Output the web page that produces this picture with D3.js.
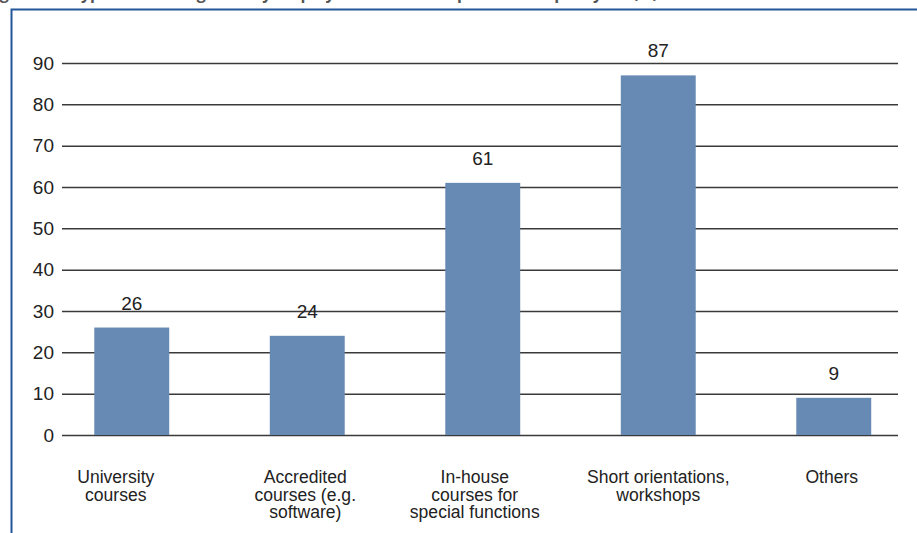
<!DOCTYPE html>
<html>
<head>
<meta charset="utf-8">
<script src="https://cdn.jsdelivr.net/npm/d3@7"></script>
<style>
  html, body { margin: 0; padding: 0; background: #fff; }
  svg { display: block; }
</style>
</head>
<body>
<svg id="chart" width="917" height="533"></svg>
<script>
// Training types and share of respondents (%)
const categories = [
  ["University", "courses"],
  ["Accredited", "courses (e.g.", "software)"],
  ["In-house", "courses for", "special functions"],
  ["Short orientations,", "workshops"],
  ["Others"]
];
const values = [26, 24, 61, 87, 9];
const yTicks = [0, 10, 20, 30, 40, 50, 60, 70, 80, 90];
const titleText = "Figure 4.2: Types of training used by employees in the workplace in the past year (%)";

const svg = d3.select("#chart");
const W = 917, H = 533;

const keys = categories.map(c => c.join(" "));

const x = d3.scaleBand().domain(keys).range([44, 921.5]).padding(0);
const barW = x.bandwidth() * 0.427;
const y = d3.scaleLinear().domain([0, 90]).range([435, 63]);
const cx = k => x(k) + x.bandwidth() / 2;

// Title, running off the top edge of the page
svg.append("text")
  .attr("x", -14).attr("y", -1)
  .attr("font-family", "Open Sans, sans-serif")
  .attr("font-weight", "bold")
  .attr("font-size", 16)
  .attr("fill", "#555")
  .text(titleText);

// Frame
svg.append("path")
  .attr("d", `M11.5,${H} V9.5 H${W}`)
  .attr("fill", "none")
  .attr("stroke", "#24579a")
  .attr("stroke-width", 2);

// Gridlines and tick labels
const yAxis = d3.axisLeft(y).tickValues(yTicks).tickSize(-(898 - 62)).tickPadding(8);
const gy = svg.append("g").attr("transform", "translate(62,0)").call(yAxis);
gy.select(".domain").remove();
gy.selectAll(".tick line").attr("stroke", "#3a3a3a").attr("stroke-width", 1.5);
gy.selectAll(".tick text")
  .attr("font-family", "Liberation Sans, Arial, sans-serif")
  .attr("font-size", 19)
  .attr("fill", "#222");

// Bars
svg.append("g").selectAll("rect")
  .data(values)
  .join("rect")
  .attr("x", (d, i) => x(keys[i]) + (x.bandwidth() - barW) / 2)
  .attr("y", d => y(d))
  .attr("width", barW)
  .attr("height", d => y(0) - y(d))
  .attr("fill", "#668ab3");

// Value labels
svg.append("g").selectAll("text")
  .data(values)
  .join("text")
  .attr("x", (d, i) => cx(keys[i]))
  .attr("y", d => y(d) - 18)
  .attr("text-anchor", "middle")
  .attr("font-family", "Liberation Sans, Arial, sans-serif")
  .attr("font-size", 19)
  .attr("fill", "#222")
  .text(d => d);

// Category labels: one text per line, slightly condensed;
// the wrapped label blocks sit a little left of their bar on the first and third category
const labelNudge = [-16, -2, -8, 0, -2];
const lines = categories.flatMap((c, i) => c.map((t, j) => ({ t, i, j })));
svg.append("g").selectAll("text")
  .data(lines)
  .join("text")
  .attr("transform", d => `translate(${cx(keys[d.i]) + labelNudge[d.i]},${483 + d.j * 17.5}) scale(0.95,1)`)
  .attr("text-anchor", "middle")
  .attr("font-family", "Liberation Sans, Arial, sans-serif")
  .attr("font-size", 18.5)
  .attr("fill", "#222")
  .text(d => d.t);
</script>
</body>
</html>
